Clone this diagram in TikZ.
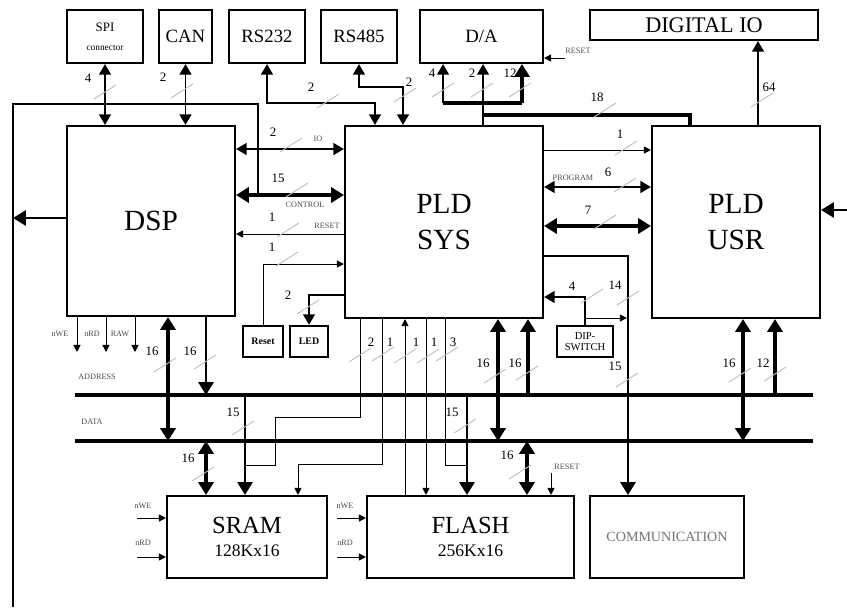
\documentclass[tikz,border=0pt]{standalone}
\usepackage{fontspec}
\setmainfont{Liberation Serif}
\usetikzlibrary{arrows.meta}
\tikzset{
  unit/.style={
    draw,
    line width=1.8pt,
    fill=white,
    align=center,
    inner sep=0pt
  },
  sz/.style 2 args={
    minimum width=#1*0.3mm,
    minimum height=#2*0.3mm
  },
  chip/.style={unit, font=\fontsize{25}{30}\selectfont},
  mem/.style={unit, font=\fontsize{21}{20}\selectfont},
  port/.style={unit, font=\fontsize{16}{18}\selectfont},
  knob/.style={unit, line width=2pt, font=\bfseries\fontsize{8.5}{9}\selectfont},
  num/.style={inner sep=0pt, font=\fontsize{11}{12}\selectfont},
  tag/.style={inner sep=0pt, text=black!70, font=\fontsize{7}{8}\selectfont},
  slim/.style={line width=0.8pt, >={Triangle[length=6pt,width=6pt]}},
  mid/.style={line width=1.7pt, >={Triangle[length=9pt,width=10pt]}},
  wide/.style={line width=2.6pt, >={Triangle[length=11pt,width=13pt]}},
  bighead/.style={>={Triangle[length=11pt,width=13pt]}},
  bus/.style={line width=3.6pt},
  cut/.pic={\draw[gray!50, line width=0.8pt] (-11,7) -- (11,-7);}
}

\begin{document}
\begin{tikzpicture}[x=0.3mm, y=-0.3mm]
\useasboundingbox (0,0) rectangle (847,607);

\node[port, sz={76}{53}] (spi) at (105,36.5) {{\fontsize{11}{12}\selectfont SPI}\\[-2pt]{\fontsize{8}{9}\selectfont connector}};
\node[port, sz={53}{53}] (can) at (185.5,36.5) {CAN};
\node[port, sz={76}{53}] (rs232) at (267,36.5) {RS232};
\node[port, sz={76}{53}] (rs485) at (359,36.5) {RS485};
\node[port, sz={123}{53}] (da) at (481.5,36.5) {D/A};
\node[unit, sz={228}{30}, font=\fontsize{19}{20}\selectfont] (dio) at (704,25) {DIGITAL IO};

\node[chip, sz={168}{190}] (dsp) at (151,221) {DSP};
\node[chip, sz={198}{192}] (sys) at (444,222) {PLD\\SYS};
\node[chip, sz={168}{192}] (usr) at (736,222) {PLD\\USR};

\node[knob, sz={40}{31}] (rst) at (263,341.5) {Reset};
\node[knob, sz={38}{31}] (led) at (309,341.5) {LED};
\node[unit, line width=2pt, sz={56}{31}, font=\fontsize{9}{9.5}\selectfont] (dip) at (585,341.5) {DIP-\\SWITCH};

\node[mem, sz={160}{82}] (sram) at (247,537) {SRAM\\{\fontsize{15}{16}\selectfont 128Kx16}};
\node[mem, sz={207}{82}] (flash) at (470.5,537) {FLASH\\{\fontsize{15}{16}\selectfont 256Kx16}};
\node[unit, sz={154}{82}, text=black!55, font=\fontsize{12}{13}\selectfont] (comm) at (667,537) {COMMUNICATION};

\coordinate (j232) at (375,103);
\coordinate (j485) at (403,87);
\coordinate (jda) at (483,115);
\coordinate (j18) at (690,115);
\coordinate (jd4) at (443,103);
\coordinate (jd12) at (522,103);
\coordinate (darst) at (565,58);
\coordinate (jdio) at (758,80);

\coordinate (yio) at (290,149);
\coordinate (yctl) at (258,195);
\coordinate (yrst) at (290,234);
\coordinate (yres) at (290,264);
\coordinate (yled) at (290,295);
\coordinate (lpA) at (258,104);
\coordinate (lpB) at (13,104);
\coordinate (lpC) at (13,607);
\coordinate (ydl) at (40,218);
\coordinate (redge) at (847,210);

\coordinate (yu1) at (600,150);
\coordinate (yu6) at (600,187);
\coordinate (yu7) at (600,226);
\coordinate (jcom) at (628,256);
\coordinate (jdip) at (585,297);
\coordinate (jdsw) at (585,318);

\coordinate (adrW) at (75,395);
\coordinate (adrE) at (813,395);
\coordinate (datW) at (75,441);
\coordinate (datE) at (813,441);
\coordinate (nwe) at (77,352);
\coordinate (nrd) at (106,352);
\coordinate (raw) at (135,352);
\coordinate (dsD) at (168,441);
\coordinate (dsA) at (206,395);
\coordinate (srD) at (206,441);
\coordinate (srA) at (245,395);
\coordinate (sr2) at (275,465);
\coordinate (sr1) at (298,464);
\coordinate (p2) at (360,417);
\coordinate (p1) at (382,340);
\coordinate (p3) at (405,340);
\coordinate (p4) at (426,340);
\coordinate (p5) at (445,340);
\coordinate (flA) at (467,395);
\coordinate (fl3) at (467,465);
\coordinate (syD) at (498,441);
\coordinate (syA) at (528,395);
\coordinate (flD) at (527,441);
\coordinate (flr) at (551,473);
\coordinate (swe) at (137,518);
\coordinate (srd) at (137,557);
\coordinate (fwe) at (337,518);
\coordinate (frd) at (337,557);
\coordinate (usD) at (743,441);
\coordinate (usA) at (775,395);

\draw[bus] (adrW) -- (adrE);
\draw[bus] (datW) -- (datE);

\draw[mid,<->] (spi.south) -- (spi.south |- dsp.north);
\draw[mid,<->] (can.south) -- (can.south |- dsp.north);
\draw[mid,<->] (rs232.south) |- (j232) -- (j232 |- sys.north);
\draw[mid,<->] (rs485.south) |- (j485) -- (j485 |- sys.north);
\draw[wide] (j18 |- usr.north) -- (j18) -- (jda);
\draw[mid,->] (jda |- sys.north) -- (jda |- da.south);
\draw[wide] (jd4) -- (jd12);
\draw[mid,->] (jd4) -- (jd4 |- da.south);
\draw[wide,->] (jd12) -- (jd12 |- da.south);
\draw[slim,->] (darst) -- (darst -| da.east);
\draw[mid,->] (jdio |- usr.north) -- (jdio |- dio.south);

\draw[mid,<->] (dsp.east |- yio) -- (sys.west |- yio);
\draw[wide,<->] (dsp.east |- yctl) -- (sys.west |- yctl);
\draw[mid] (yctl) -- (lpA) -- (lpB) -- (lpC);
\draw[mid,bighead,->] (dsp.west |- ydl) -- (lpB |- ydl);
\draw[mid,bighead,->] (redge) -- (redge -| usr.east);
\draw[slim,->] (sys.west |- yrst) -- (dsp.east |- yrst);
\draw[slim,->] (rst.north) |- (sys.west |- yres);
\draw[mid,->] (sys.west |- yled) -| (led.north);

\draw[slim,->] (sys.east |- yu1) -- (usr.west |- yu1);
\draw[mid,<->] (sys.east |- yu6) -- (usr.west |- yu6);
\draw[wide,<->] (sys.east |- yu7) -- (usr.west |- yu7);
\draw[mid,bighead,->] (sys.east |- jcom) -- (jcom) -- (jcom |- comm.north);
\draw[mid,->] (dip.north) |- (sys.east |- jdip);
\draw[slim,->,shorten >=1pt] (jdsw) -- (jdsw -| jcom);

\draw[slim,->] (dsp.south -| nwe) -- (nwe);
\draw[slim,->] (dsp.south -| nrd) -- (nrd);
\draw[slim,->] (dsp.south -| raw) -- (raw);
\draw[wide,<->] (dsp.south -| dsD) -- (dsD);
\draw[mid,bighead,->] (dsp.south -| dsA) -- (dsA);
\draw[wide,<->] (srD) -- (srD |- sram.north);
\draw[mid,bighead,->] (srA) -- (srA |- sram.north);
\draw[slim] (sys.south -| p2) -- (p2) -| (sr2) -- (sr2 -| srA);
\draw[slim,->] (sys.south -| p1) |- (sr1) -- (sr1 |- sram.north);
\draw[slim,->] (flash.north -| p3) -- (p3 |- sys.south);
\draw[slim,->] (sys.south -| p4) -- (p4 |- flash.north);
\draw[slim] (sys.south -| p5) |- (fl3);
\draw[mid,bighead,->] (flA) -- (flA |- flash.north);
\draw[wide,<->] (sys.south -| syD) -- (syD);
\draw[wide,->] (syA) -- (syA |- sys.south);
\draw[wide,<->] (flD) -- (flD |- flash.north);
\draw[slim,->] (flr) -- (flr |- flash.north);
\draw[slim,->] (swe) -- (swe -| sram.west);
\draw[slim,->] (srd) -- (srd -| sram.west);
\draw[slim,->] (fwe) -- (fwe -| flash.west);
\draw[slim,->] (frd) -- (frd -| flash.west);
\draw[wide,<->] (usr.south -| usD) -- (usD);
\draw[wide,->] (usA) -- (usA |- usr.south);

\node[num] (w1) at (88,78) {4};
\node[num] (w2) at (163,77) {2};
\node[num] (w3) at (311,87) {2};
\node[num] (w4) at (409,82) {2};
\node[num] (w5) at (432,73) {4};
\node[num] (w6) at (472,73) {2};
\node[num] (w7) at (510,73) {12};
\node[num] (w8) at (597,97) {18};
\node[num] (w9) at (769,87) {64};
\node[tag] (t1) at (578,51) {RESET};
\node[num] (w10) at (273,132) {2};
\node[tag] (t2) at (318,139) {IO};
\node[num] (w11) at (278,178) {15};
\node[tag] (t3) at (305,205) {CONTROL};
\node[num] (w12) at (272,217) {1};
\node[tag] (t4) at (327,226) {RESET};
\node[num] (w13) at (272,247) {1};
\node[num] (w14) at (288,295) {2};
\node[num] (w15) at (620,134) {1};
\node[tag] (t5) at (573,178) {PROGRAM};
\node[num] (w16) at (608,172) {6};
\node[num] (w17) at (588,210) {7};
\node[num] (w18) at (572,286) {4};
\node[num] (w19) at (615,285) {14};
\node[num] (w20) at (615,366) {15};
\node[tag] (t6) at (60,334) {nWE};
\node[tag] (t7) at (92,334) {nRD};
\node[tag] (t8) at (120,334) {RAW};
\node[num] (w21) at (152,351) {16};
\node[num] (w22) at (190,351) {16};
\node[tag] (t9) at (97,377) {ADDRESS};
\node[tag] (t10) at (92,422) {DATA};
\node[num] (w23) at (188,458) {16};
\node[num] (w24) at (233,412) {15};
\node[num] (w25) at (371,342) {2};
\node[num] (w26) at (390,342) {1};
\node[num] (w27) at (416,342) {1};
\node[num] (w28) at (434,342) {1};
\node[num] (w29) at (453,342) {3};
\node[num] (w30) at (452,412) {15};
\node[num] (w31) at (483,363) {16};
\node[num] (w32) at (515,363) {16};
\node[num] (w33) at (507,455) {16};
\node[tag] (t11) at (567,467) {RESET};
\node[num] (w34) at (729,363) {16};
\node[num] (w35) at (763,363) {12};
\node[tag] (t12) at (143,506) {nWE};
\node[tag] (t13) at (143,543) {nRD};
\node[tag] (t14) at (345,506) {nWE};
\node[tag] (t15) at (345,543) {nRD};

\pic at (105,92) {cut};
\pic at (182,91) {cut};
\pic at (328,101) {cut};
\pic at (405,95) {cut};
\pic at (443,90) {cut};
\pic at (482,90) {cut};
\pic at (520,90) {cut};
\pic at (605,110) {cut};
\pic at (762,100) {cut};
\pic at (291,145) {cut};
\pic at (297,190) {cut};
\pic at (288,230) {cut};
\pic at (287,259) {cut};
\pic at (308,307) {cut};
\pic at (626,148) {cut};
\pic at (625,185) {cut};
\pic at (605,222) {cut};
\pic at (592,296) {cut};
\pic at (628,298) {cut};
\pic at (627,380) {cut};
\pic at (165,365) {cut};
\pic at (205,362) {cut};
\pic at (203,474) {cut};
\pic at (243,428) {cut};
\pic at (360,355) {cut};
\pic at (383,354) {cut};
\pic at (405,356) {cut};
\pic at (428,356) {cut};
\pic at (447,354) {cut};
\pic at (465,426) {cut};
\pic at (495,376) {cut};
\pic at (527,373) {cut};
\pic at (520,472) {cut};
\pic at (740,375) {cut};
\pic at (775,374) {cut};

\end{tikzpicture}
\end{document}
